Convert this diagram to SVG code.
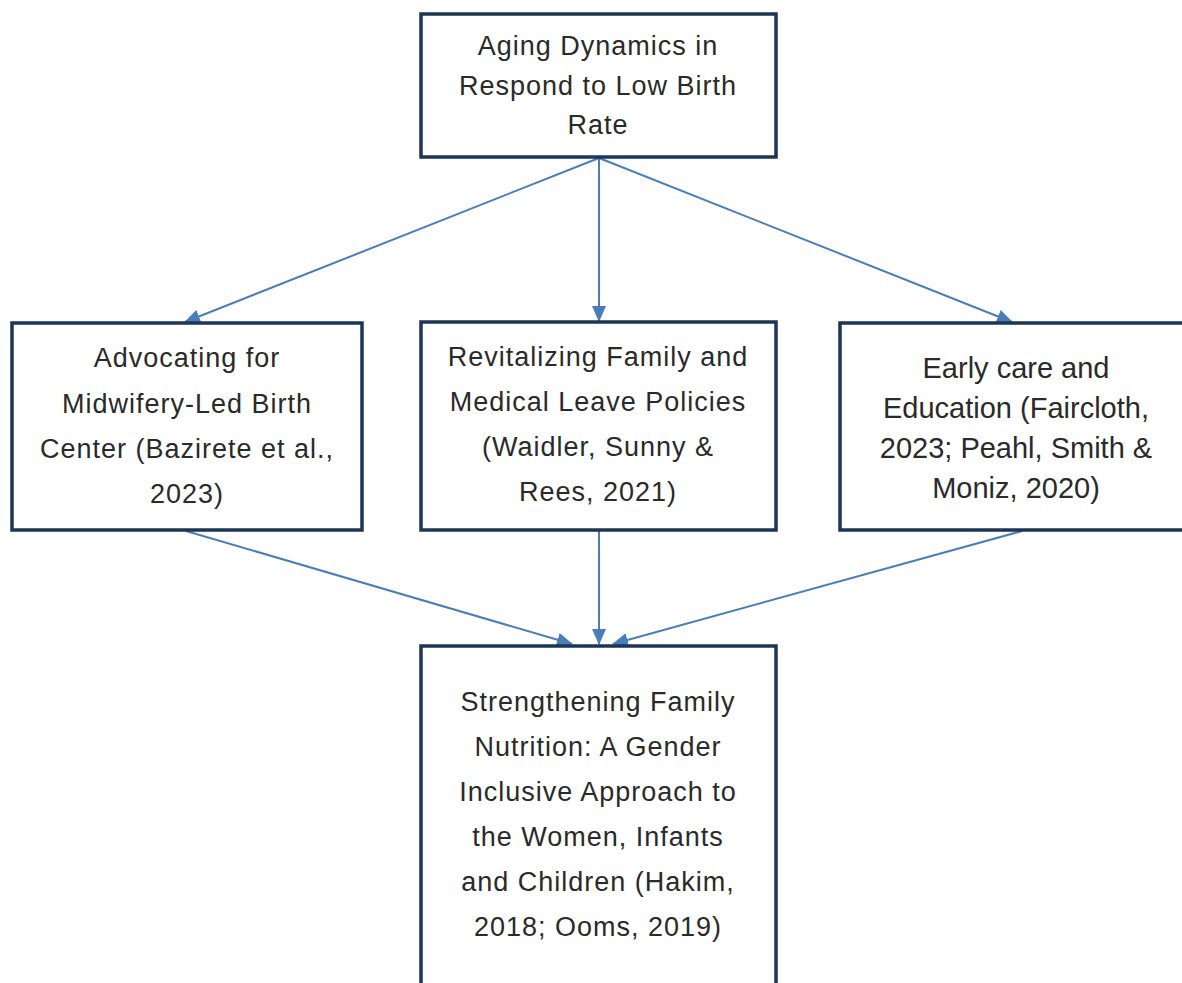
<svg xmlns="http://www.w3.org/2000/svg" width="1182" height="983" viewBox="0 0 1182 983">
<style>
.box{fill:#fff;stroke:#1e3655;stroke-width:3.5}
.t{font-family:"Liberation Sans",Arial,sans-serif;font-size:27px;fill:#2a2a2a;text-anchor:middle;letter-spacing:1px}
.a{font-size:29px;letter-spacing:0}
.c{stroke:#4a7ebb;stroke-width:2;fill:none;marker-end:url(#ah)}
</style>
<defs>
<marker id="ah" viewBox="0 0 16 14" refX="15" refY="7" markerWidth="16" markerHeight="14" markerUnits="userSpaceOnUse" orient="auto">
<path d="M0,0 L16,7 L0,14 Z" fill="#4a7ebb"/>
</marker>
</defs>
<rect width="1182" height="983" fill="#fff"/>
<g id="connectors">
<line class="c" x1="599" y1="158" x2="185" y2="322"/>
<line class="c" x1="599" y1="158" x2="599" y2="321"/>
<line class="c" x1="599" y1="158" x2="1012" y2="322"/>
<line class="c" x1="186" y1="531" x2="572" y2="644"/>
<line class="c" x1="599" y1="531" x2="599" y2="644"/>
<line class="c" x1="1022" y1="531" x2="613" y2="644"/>
</g>
<g id="n-top">
<rect class="box" x="421" y="14" width="355" height="143"/>
<text class="t"><tspan x="598" y="55">Aging Dynamics in</tspan><tspan x="598" y="95">Respond to Low Birth</tspan><tspan x="598" y="134">Rate</tspan></text>
</g>
<g id="n-left">
<rect class="box" x="12" y="323" width="350" height="207"/>
<text class="t"><tspan x="187" y="367">Advocating for</tspan><tspan x="187" y="413">Midwifery-Led Birth</tspan><tspan x="187" y="458">Center (Bazirete et al.,</tspan><tspan x="187" y="503">2023)</tspan></text>
</g>
<g id="n-mid">
<rect class="box" x="421" y="322" width="355" height="208"/>
<text class="t"><tspan x="598" y="366">Revitalizing Family and</tspan><tspan x="598" y="411">Medical Leave Policies</tspan><tspan x="598" y="456">(Waidler, Sunny &amp;</tspan><tspan x="598" y="501">Rees, 2021)</tspan></text>
</g>
<g id="n-right">
<rect class="box" x="840" y="323" width="360" height="207"/>
<text class="t a"><tspan x="1016" y="378">Early care and</tspan><tspan x="1016" y="418">Education (Faircloth,</tspan><tspan x="1016" y="458">2023; Peahl, Smith &amp;</tspan><tspan x="1016" y="498">Moniz, 2020)</tspan></text>
</g>
<g id="n-bottom">
<rect class="box" x="421" y="646" width="355" height="360"/>
<text class="t"><tspan x="598" y="711">Strengthening Family</tspan><tspan x="598" y="756">Nutrition: A Gender</tspan><tspan x="598" y="801">Inclusive Approach to</tspan><tspan x="598" y="846">the Women, Infants</tspan><tspan x="598" y="891">and Children (Hakim,</tspan><tspan x="598" y="936">2018; Ooms, 2019)</tspan></text>
</g>
</svg>
